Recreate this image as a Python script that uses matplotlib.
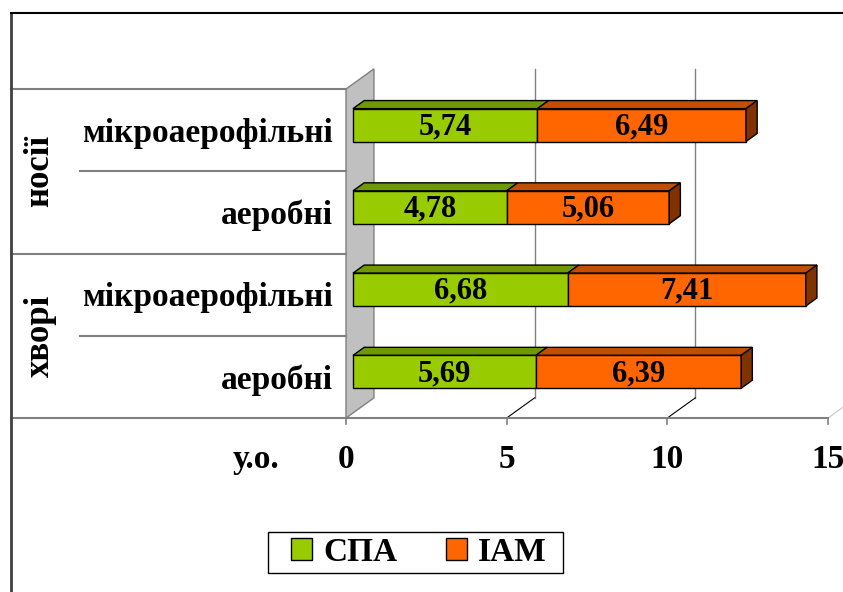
import matplotlib.pyplot as plt
from matplotlib.patches import Polygon, Patch, Rectangle
from matplotlib.lines import Line2D
from matplotlib.transforms import blended_transform_factory

# categories from bottom to top
categories = ['аеробні', 'мікроаерофільні', 'аеробні', 'мікроаерофільні']
groups = ['хворі', 'носії']
spa = [5.69, 6.68, 4.78, 5.74]
iam = [6.39, 7.41, 5.06, 6.49]
series_names = ['СПА', 'ІАМ']
xticks = [0, 5, 10, 15]
axis_title = 'у.о.'

GREEN = '#99CC00'
GREEN_TOP = '#6E9900'
ORANGE = '#FF6600'
ORANGE_TOP = '#C24E00'
ORANGE_SIDE = '#803300'
GRID = '#808080'

FONT = 'Liberation Serif'

# depth of the 3d box, in data units
WALL_DX = 0.87
WALL_DY = 0.245
BAR_FRONT = 0.25   # fraction of depth where bar front sits
BAR_DEPTH = 0.40   # fraction of depth the bar occupies
BAR_H = 0.40

fig = plt.figure(figsize=(8.43, 5.92), dpi=100)
ax = fig.add_axes([346 / 843, 174 / 592, 482 / 843, 329 / 592])
ax.set_xlim(0, 15)
ax.set_ylim(0, 4)
ax.axis('off')


def poly(pts, fc, ec='black', lw=1.0, z=2):
    p = Polygon(pts, closed=True, facecolor=fc, edgecolor=ec, linewidth=lw,
                zorder=z, clip_on=False)
    ax.add_patch(p)


# side wall
poly([(0, 0), (WALL_DX, WALL_DY), (WALL_DX, 4 + WALL_DY), (0, 4)],
     '#C0C0C0', ec=GRID, lw=1.0, z=1)

# back gridlines and floor diagonals
for t in xticks[1:]:
    ax.plot([t + WALL_DX, t + WALL_DX], [WALL_DY, 4 + WALL_DY], color=GRID,
            lw=1.0, zorder=1, clip_on=False)
    ax.plot([t, t + WALL_DX], [0, WALL_DY], color='black' if t < 15 else '#C8C8C8',
            lw=0.8, zorder=1, clip_on=False)

# front floor line and ticks
ax.plot([0, 15], [0, 0], color=GRID, lw=1.5, zorder=1, clip_on=False)
for t in xticks:
    ax.plot([t, t], [0, -0.07], color=GRID, lw=1.2, clip_on=False)
    ax.text(t, -0.5, str(t), ha='center', va='center', fontsize=24,
            fontweight='bold', family=FONT)

# axis title to the left of the ticks
ax.text(-2.8, -0.5, axis_title, ha='center', va='center', fontsize=24,
        fontweight='bold', family=FONT)

# category separators on the left
tf = blended_transform_factory(fig.transFigure, ax.transData)
for y in [0, 2, 4]:
    ax.plot([11 / 843, 346 / 843], [y, y], color=GRID, lw=1.5, transform=tf,
            clip_on=False)
for y in [1, 3]:
    ax.plot([80 / 843, 346 / 843], [y, y], color=GRID, lw=1.5, transform=tf,
            clip_on=False)

for i, name in enumerate(categories):
    ax.text(333 / 843, i + 0.46, name, transform=tf, ha='right', va='center',
            fontsize=24, fontweight='bold', family=FONT)
for g, name in enumerate(groups):
    ax.text(40 / 843, 2 * g + 1, name, transform=tf, ha='center', va='center',
            rotation=90, fontsize=25, fontweight='bold', family=FONT)

# 3d stacked bars
fx, fy = BAR_FRONT * WALL_DX, BAR_FRONT * WALL_DY
bx, by = BAR_DEPTH * WALL_DX, BAR_DEPTH * WALL_DY
for i in range(len(categories)):
    y0 = i + 0.5 - BAR_H / 2 + fy
    y1 = y0 + BAR_H
    segs = [(0, spa[i], GREEN, GREEN_TOP), (spa[i], spa[i] + iam[i], ORANGE, ORANGE_TOP)]
    for k, (a, b, front, top) in enumerate(segs):
        a += fx
        b += fx
        poly([(a, y1), (a + bx, y1 + by), (b + bx, y1 + by), (b, y1)], top, z=3)
        poly([(a, y0), (b, y0), (b, y1), (a, y1)], front, z=3)
        if k == 1:
            poly([(b, y0), (b + bx, y0 + by), (b + bx, y1 + by), (b, y1)],
                 ORANGE_SIDE, z=3)
        val = spa[i] if k == 0 else iam[i]
        ax.text((a + b) / 2, (y0 + y1) / 2 - 0.02, f'{val:.2f}'.replace('.', ','),
                ha='center', va='center', fontsize=22, fontweight='bold',
                family=FONT, zorder=4)

# outer frame
fig.add_artist(Line2D([11 / 843, 11 / 843], [0, 1 - 13 / 592], color='#404040',
                      lw=2.0, transform=fig.transFigure))
fig.add_artist(Line2D([11 / 843, 1], [1 - 13 / 592, 1 - 13 / 592], color='black',
                      lw=1.5, transform=fig.transFigure))

# legend: box drawn separately so the inner padding can be wider than tall
fig.add_artist(Rectangle((268 / 843, 1 - 573 / 592), 295 / 843, 41 / 592,
                         transform=fig.transFigure, facecolor='white',
                         edgecolor='black', linewidth=1.0))
handles = [Patch(facecolor=GREEN, edgecolor='black'),
           Patch(facecolor=ORANGE, edgecolor='black')]
leg = fig.legend(handles, series_names, loc='center',
                 bbox_to_anchor=(419 / 843, 1 - 552.5 / 592), ncol=2,
                 frameon=False, handlelength=0.62, handleheight=0.62,
                 handletextpad=0.35, columnspacing=1.45, borderpad=0.1,
                 prop={'family': FONT, 'weight': 'bold', 'size': 24})

fig.savefig('out.png', dpi=100)
